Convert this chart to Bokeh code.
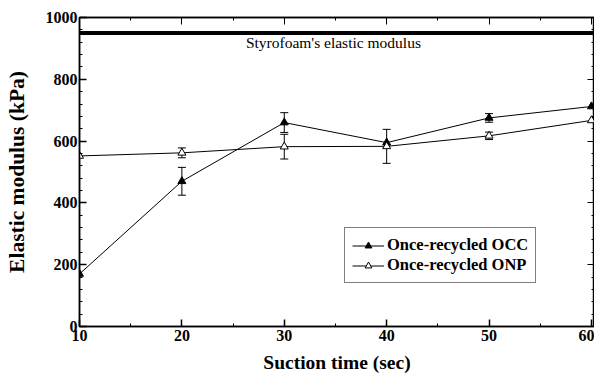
from bokeh.plotting import figure
from bokeh.models import (Range1d, LinearAxis, Whisker, ColumnDataSource, Legend,
                          LegendItem, Label, Span, FixedTicker)
from bokeh.embed import file_html
from bokeh.resources import INLINE

suction_time = [10, 20, 30, 40, 50, 60]
occ = [170, 470, 660, 595, 675, 712]
occ_err = [0, 45, 32, 0, 14, 0]
onp = [552, 562, 582, 583, 617, 667]
onp_err = [0, 16, 40, 55, 12, 0]
styrofoam_modulus = 950
styrofoam_label = "Styrofoam's elastic modulus"
x_ticks = [10, 20, 30, 40, 50, 60]
x_minor = [15, 25, 35, 45, 55]
y_ticks = [0, 200, 400, 600, 800, 1000]
y_minor = [v for v in range(0, 1001, 40) if v % 200]

FONT = "Liberation Serif"

p = figure(width=594, height=376, output_backend="svg", toolbar_location=None,
           x_range=Range1d(10, 60.3), y_range=Range1d(0, 1000),
           min_border_left=79, min_border_top=17, min_border_bottom=50,
           min_border_right=0, background_fill_color="white",
           border_fill_color="white", outline_line_color="black",
           outline_line_width=1.5)
p.grid.visible = False

# axes
for ax in [p.xaxis[0], p.yaxis[0]]:
    ax.major_tick_in = 7
    ax.major_tick_out = 0
    ax.minor_tick_in = 3
    ax.minor_tick_out = 0
    ax.axis_line_width = 1.5
    ax.major_tick_line_width = 1.5
    ax.major_label_text_font = FONT
    ax.major_label_text_font_style = "bold"
    ax.major_label_text_font_size = "16px"
    ax.major_label_text_color = "black"
    ax.axis_label_text_font = FONT
    ax.axis_label_text_font_style = "bold"
    ax.axis_label_text_color = "black"

p.xaxis.ticker = FixedTicker(ticks=x_ticks, minor_ticks=x_minor)
p.yaxis.ticker = FixedTicker(ticks=y_ticks, minor_ticks=y_minor)
p.xaxis.axis_label = "Suction time (sec)"
p.yaxis.axis_label = "Elastic modulus (kPa)"
p.xaxis.axis_label_text_font_size = "19.5px"
p.yaxis.axis_label_text_font_size = "21.5px"
p.xaxis.major_label_standoff = 3
p.yaxis.major_label_standoff = 2
p.xaxis.axis_label_standoff = 8
p.yaxis.axis_label_standoff = 14

top = LinearAxis(ticker=FixedTicker(ticks=x_ticks, minor_ticks=x_minor),
                 major_tick_in=7, major_tick_out=0, minor_tick_in=3, minor_tick_out=0,
                 major_label_overrides={t: "" for t in x_ticks}, axis_line_width=1.5,
                 major_label_standoff=0)
p.add_layout(top, "above")
right = LinearAxis(ticker=FixedTicker(ticks=y_ticks, minor_ticks=y_minor),
                   major_tick_in=7, major_tick_out=0, minor_tick_in=3, minor_tick_out=0,
                   major_label_overrides={t: "" for t in y_ticks}, axis_line_width=1.5,
                   major_label_standoff=0)
p.add_layout(right, "right")

# styrofoam reference line
p.add_layout(Span(location=styrofoam_modulus, dimension="width",
                  line_color="black", line_width=4))
p.add_layout(Label(x=34.8, y=styrofoam_modulus, y_offset=-18, text=styrofoam_label,
                   text_align="center", text_font=FONT, text_font_size="15.5px",
                   text_color="black"))

# error bars
def err_source(xs, ys, es):
    keep = [i for i, e in enumerate(es) if e > 0]
    return ColumnDataSource(dict(
        x=[xs[i] for i in keep],
        lo=[ys[i] - es[i] for i in keep],
        hi=[ys[i] + es[i] for i in keep]))

for ys, es in [(occ, occ_err), (onp, onp_err)]:
    w = Whisker(source=err_source(suction_time, ys, es), base="x", lower="lo", upper="hi",
                line_color="black", line_width=1)
    w.upper_head.size = 8
    w.lower_head.size = 8
    w.upper_head.line_width = 1
    w.lower_head.line_width = 1
    p.add_layout(w)

occ_line = p.line(suction_time, occ, line_color="black", line_width=1)
occ_mark = p.scatter(suction_time, occ, marker="triangle", size=8,
                     fill_color="black", line_color="black")
onp_line = p.line(suction_time, onp, line_color="black", line_width=1)
onp_mark = p.scatter(suction_time, onp, marker="triangle", size=8,
                     fill_color="white", line_color="black", line_width=1)

legend = Legend(items=[
    LegendItem(label="Once-recycled OCC", renderers=[occ_line, occ_mark]),
    LegendItem(label="Once-recycled ONP", renderers=[onp_line, onp_mark]),
], location=(265, 43), label_text_font=FONT, label_text_font_style="bold",
    label_text_font_size="16.5px", label_text_color="black",
    border_line_color="black", border_line_width=1.5,
    glyph_width=32, glyph_height=17, label_height=17, spacing=0,
    padding=7, margin=0, label_standoff=3, background_fill_alpha=1)
p.add_layout(legend, "center")

open("out.html", "w").write(file_html(p, INLINE))
